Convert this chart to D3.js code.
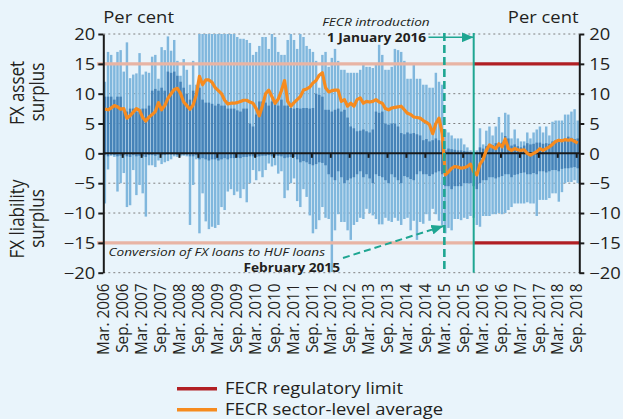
<!DOCTYPE html>
<html><head><meta charset="utf-8">
<script src="https://cdn.jsdelivr.net/npm/d3@7"></script>
<style>
html,body{margin:0;padding:0;background:#e9f4fb;}
svg{display:block;font-family:"Open Sans",sans-serif;}
</style>
</head><body>
<svg id="chart" width="623" height="419"></svg>
<script>
// ---------- DATA ----------
// monthly categories Mar 2006 .. Sep 2018
const categories = d3.timeMonth.range(new Date(2006,2,1), new Date(2018,9,1)).map(d3.timeFormat("%Y-%m"));
const tickLabels = ["Mar. 2006","Sep. 2006","Mar. 2007","Sep. 2007","Mar. 2008","Sep. 2008","Mar. 2009","Sep. 2009",
  "Mar. 2010","Sep. 2010","Mar. 2011","Sep. 2011","Mar. 2012","Sep. 2012","Mar. 2013","Sep. 2013","Mar. 2014","Sep. 2014",
  "Mar. 2015","Sep. 2015","Mar. 2016","Sep. 2016","Mar. 2017","Sep. 2017","Mar. 2018","Sep. 2018"];
const yTicks = [-20,-15,-10,-5,0,5,10,15,20];
const gridValues = [-20,-10,-5,5,10,20];
const regulatoryLimit = 15;

// highest bank value (capped at 20 on the chart)
const maxVals = [12,17,16.5,14.8,17,17.3,13.7,18.6,12.6,13.2,
 13.4,16.8,13.2,13.7,13.5,16.2,16.5,12.5,17.8,17.3,
 19.6,17.2,19.0,15.5,13.0,15.8,14.0,11.5,15.5,11.5,
 20,20,20,20,20,20,20,20,20,20,
 20,20,19.5,19.2,19.2,19.0,18.5,16.5,17.0,18.0,
 19.5,19.5,17.5,20,19.5,17.0,16.5,16.5,19.0,20,
 19.0,17.5,20,19.5,18.0,17.5,17.0,15.5,11.0,16.5,
 17.0,14.5,16.0,17.5,15.5,14.0,14.0,13.5,13.5,13.5,
 13.5,14.0,15.0,14.5,14.5,14.3,15.0,18.2,16.5,14.0,
 14.0,14.5,17.5,17.3,17.0,15.5,12.5,12.5,15.0,12.5,
 12.5,11.5,11.5,11.0,11.0,13.5,12.0,11.5,4.0,3.5,
 3.0,2.5,2.5,2.5,1.5,1.0,0.5,0.3,0.5,4.2,
 1.5,3.8,4.5,3.0,4.5,6.1,3.5,6.8,6.5,2.5,
 4.0,2.5,2.0,2.0,3.5,2.5,3.5,4.0,4.5,3.5,
 4.5,3.0,5.3,5.5,5.5,5.5,6.5,6.5,7.0,7.4,5.5];
// upper quartile
const q3Vals = [9.5,9.5,9.5,9.0,9.5,9.5,7.5,7.0,7.5,7.5,
 7.0,7.0,7.5,7.5,8.0,10.5,10.8,10.5,11.0,10.5,
 13.7,13.5,13.7,13.0,12.0,11.0,10.0,9.0,10.5,10.0,
 11.0,9.0,8.5,8.5,8.3,8.0,8.3,8.0,8.0,7.5,
 7.5,7.5,7.2,7.0,7.5,7.5,5.0,4.5,6.5,8.7,
 8.7,8.5,8.0,8.7,8.5,8.0,9.0,8.0,8.0,7.6,
 7.5,7.6,7.5,7.6,7.6,7.5,7.6,10.0,9.8,9.5,
 7.3,7.3,7.0,7.3,7.5,7.0,7.3,6.0,4.5,4.2,
 3.7,3.8,4.0,3.7,3.5,4.0,7.0,6.8,7.0,5.0,
 4.8,5.0,5.0,4.5,3.4,3.2,3.5,3.3,3.4,3.2,
 3.0,2.2,2.4,2.0,2.2,2.5,2.2,2.0,0.5,0.8,
 0.7,0.6,0.5,0.5,0.4,0.3,0.2,0.2,0.2,1.0,
 0.8,1.2,1.5,1.4,1.7,1.6,1.8,2.9,2.5,1.3,
 1.5,1.2,1.0,1.3,1.7,1.5,1.6,1.8,1.8,1.6,
 1.7,1.6,2.0,2.2,2.4,2.2,2.5,2.8,2.6,2.4,2.5];
// lower quartile
const q1Vals = [-0.3,-0.5,-0.2,-0.3,-0.5,-0.4,-0.3,-0.5,-0.6,-0.3,
 -0.5,-0.4,-0.5,-0.6,-0.3,-0.3,-0.4,-0.2,-0.3,-0.3,
 -0.2,-0.2,-0.2,-0.3,-0.2,-0.2,-0.2,-0.5,-0.5,-0.3,
 -1.0,-0.8,-1.0,-1.2,-1.0,-1.0,-1.2,-1.0,-0.8,-1.0,
 -0.8,-0.8,-0.7,-0.8,-0.6,-0.6,-0.5,-0.5,-0.6,-0.5,
 -0.4,-0.4,-0.3,-0.5,-0.4,-0.4,-0.5,-0.8,-0.7,-0.6,
 -0.6,-1.0,-1.5,-1.3,-1.5,-1.8,-2.0,-1.8,-1.5,-1.6,
 -2.0,-3.5,-4.0,-4.5,-3.0,-4.0,-5.0,-4.5,-4.2,-4.0,
 -3.5,-3.0,-4.0,-3.5,-4.2,-5.0,-3.5,-3.8,-4.0,-4.5,
 -5.0,-3.5,-4.0,-4.5,-5.0,-3.8,-4.0,-4.3,-4.5,-3.5,
 -3.0,-3.5,-3.5,-3.8,-3.5,-3.2,-3.0,-3.5,-5.5,-5.5,
 -6.0,-5.5,-5.5,-5.5,-5.0,-5.0,-5.0,-5.5,-6.0,-5.0,
 -4.5,-4.5,-4.0,-4.0,-4.2,-4.0,-3.8,-3.5,-3.5,-4.0,
 -3.6,-3.5,-3.3,-3.2,-3.5,-3.5,-3.3,-3.5,-3.0,-3.0,
 -3.2,-3.0,-2.8,-2.8,-3.0,-2.6,-2.5,-2.5,-2.4,-2.3,-2.5];
// lowest bank value
const minVals = [-8.4,-2.7,-0.4,-0.6,-6.4,-5.0,-3.3,-9.0,-8.7,-2.8,
 -7.0,-5.3,-6.7,-10.6,-2.0,-2.0,-2.3,-1.2,-1.8,-1.5,
 -1.3,-1.0,-0.5,-0.6,-0.5,-0.4,-0.5,-12.0,-5.3,-1.0,
 -13.4,-6.7,-11.4,-12.7,-12.3,-12.5,-12.0,-9.0,-9.5,-6.4,
 -6.0,-7.0,-6.4,-7.5,-6.0,-8.2,-5.0,-2.8,-4.5,-3.0,
 -4.0,-2.8,-1.7,-2.2,-2.0,-3.4,-3.0,-7.5,-6.2,-5.0,
 -4.2,-8.0,-9.0,-6.0,-7.3,-10.4,-13.4,-12.7,-11.2,-9.0,
 -10.8,-11.0,-19.9,-12.9,-10.2,-11.5,-11.5,-12.9,-14.5,-12.0,
 -11.5,-10.8,-11.0,-9.3,-10.0,-10.4,-11.0,-11.9,-11.9,-10.8,
 -11.3,-11.5,-10.8,-11.3,-12.0,-11.0,-10.8,-12.9,-11.3,-14.5,
 -11.5,-11.8,-10.2,-11.3,-9.3,-10.2,-11.3,-12.0,-13.4,-12.5,
 -12.9,-11.0,-11.0,-11.2,-10.8,-11.0,-10.5,-10.8,-12.0,-12.3,
 -10.5,-10.5,-10.5,-10.2,-10.2,-10.0,-10.2,-10.0,-9.5,-9.0,
 -8.4,-8.4,-8.4,-8.4,-8.2,-8.4,-8.4,-10.5,-7.8,-7.8,
 -7.8,-7.5,-6.7,-6.7,-8.1,-6.5,-5.0,-4.8,-4.8,-4.5,-5.0];
// FECR sector-level average
const avgVals = [7.4,7.3,7.6,8.0,7.8,7.4,7.5,5.9,6.3,6.9,
 7.5,7.2,6.0,5.4,6.1,6.5,7.0,8.5,7.3,8.0,
 9.2,10.0,10.7,10.9,10.0,8.6,8.0,7.4,8.1,9.8,
 12.9,11.5,12.3,12.3,11.9,11.0,10.5,10.0,8.9,8.3,
 8.4,8.4,8.5,8.7,8.9,8.9,8.6,8.4,7.5,6.3,
 8.0,10.0,10.6,9.5,8.4,9.1,10.5,12.2,8.7,7.9,
 8.5,9.0,9.5,10.6,10.8,11.1,11.8,12.2,13.1,13.5,
 11.0,10.3,10.5,10.6,10.6,8.7,9.0,7.9,8.4,7.9,
 9.0,9.3,8.4,8.7,8.6,8.7,9.0,8.6,8.4,7.5,
 7.3,7.6,7.7,7.8,7.9,7.3,6.7,6.5,6.1,6.0,
 5.9,5.5,5.2,4.8,3.3,5.0,5.9,3.3,-3.6,-3.1,
 -2.5,-2.2,-2.3,-2.5,-2.4,-2.2,-1.8,-3.1,-3.6,-1.8,
 -1.0,0.5,1.4,1.1,0.8,1.6,1.1,2.4,0.8,0.5,
 0.8,0.6,0.5,0.6,0.0,-0.3,0.0,0.3,0.8,0.5,
 0.8,1.1,1.5,2.0,2.2,2.1,2.3,2.2,2.3,2.0,1.7];

const conversionMonth = "2015-03";
const introductionMonth = "2015-12";
const legendItems = [{label:"FECR regulatory limit", color:"#b11f24"},{label:"FECR sector-level average", color:"#f68b1f"}];

// ---------- CHART ----------
const C = {bg:"#e9f4fb", light:"#80b7dd", dark:"#4683b8", orange:"#f68b1f", red:"#b11f24", salmon:"#e8b4a4",
  teal:"#1fa692", grid:"#808080", text:"#231f20"};
const S = 1.15; // horizontal text stretch of the original
const svg = d3.select("#chart");
svg.append("rect").attr("width",623).attr("height",419).attr("fill",C.bg);

const x = d3.scaleBand().domain(categories).range([103.3, 579.3]).padding(0);
const y = d3.scaleLinear().domain([-20,20]).range([272.7, 34]);
const bw = x.bandwidth();
const cx = k => x(k) + bw/2;
const clamp = v => Math.max(-20, Math.min(20, v));
const fmt = d => d < 0 ? "\u2212" + Math.abs(d) : String(d);

function htext(g, px, py, s, o={}) {
  return g.append("text")
    .attr("transform", `translate(${px},${py}) scale(${o.sx||S},1)`)
    .attr("text-anchor", o.anchor||"start")
    .attr("dy", o.dy||0)
    .attr("font-size", o.size||16)
    .attr("font-weight", o.weight||"normal")
    .attr("font-style", o.style||"normal")
    .attr("fill", o.fill||C.text)
    .text(s);
}
function vtext(g, px, py, s, o={}) {
  return g.append("text")
    .attr("transform", `translate(${px},${py}) rotate(-90) scale(1,${o.sy||S})`)
    .attr("text-anchor", o.anchor||"middle")
    .attr("dy", o.dy||0)
    .attr("font-size", o.size||16)
    .attr("fill", o.fill||C.text)
    .text(s);
}

// gridlines
svg.append("g").selectAll("line").data(gridValues).join("line")
  .attr("x1",103.3).attr("x2",579.3).attr("y1",d=>y(d)).attr("y2",d=>y(d))
  .attr("stroke",C.grid).attr("stroke-width",1).attr("stroke-dasharray","2,3");

// annotation background box (hides gridline behind the date text)
svg.append("rect").attr("x",325).attr("y",30).attr("width",103).attr("height",9).attr("fill",C.bg);

const rows = categories.map((k,i)=>({k, max:maxVals[i], min:minVals[i], q1:q1Vals[i], q3:q3Vals[i], avg:avgVals[i]}));

// range bars
svg.append("g").selectAll("rect").data(rows).join("rect")
  .attr("x",d=>x(d.k)+0.35).attr("width",bw-0.7)
  .attr("y",d=>y(clamp(d.max))).attr("height",d=>y(clamp(d.min))-y(clamp(d.max)))
  .attr("fill",C.light);
svg.append("g").selectAll("rect").data(rows).join("rect")
  .attr("x",d=>x(d.k)+0.35).attr("width",bw-0.7)
  .attr("y",d=>y(d.q3)).attr("height",d=>y(d.q1)-y(d.q3))
  .attr("fill",C.dark);

// limit lines
const xIntro = cx(introductionMonth);
const xConv = x(conversionMonth) + 0.6;
[regulatoryLimit, -regulatoryLimit].forEach(v=>{
  svg.append("line").attr("x1",97).attr("x2",xIntro).attr("y1",y(v)).attr("y2",y(v))
    .attr("stroke",C.salmon).attr("stroke-width",3.2);
  svg.append("line").attr("x1",xIntro).attr("x2",579.3).attr("y1",y(v)).attr("y2",y(v))
    .attr("stroke",C.red).attr("stroke-width",3.2);
});

// zero axis with ticks
svg.append("line").attr("x1",103.3).attr("x2",579.3).attr("y1",y(0)).attr("y2",y(0))
  .attr("stroke","#1a1a1a").attr("stroke-width",2);
const tickKeys = categories.filter((k,i)=>i%6===0);
svg.append("g").selectAll("line").data(tickKeys.slice(1)).join("line")
  .attr("x1",d=>x(d)+0.5).attr("x2",d=>x(d)+0.5).attr("y1",y(0)).attr("y2",y(0)+4.5)
  .attr("stroke","#1a1a1a").attr("stroke-width",2);

// average line
svg.append("path").datum(rows)
  .attr("d", d3.line().x(d=>cx(d.k)).y(d=>y(d.avg)).curve(d3.curveLinear))
  .attr("fill","none").attr("stroke",C.orange).attr("stroke-width",3.2).attr("stroke-linejoin","round");

// vertical event lines
svg.append("line").attr("x1",xConv).attr("x2",xConv).attr("y1",33).attr("y2",272.7)
  .attr("stroke",C.teal).attr("stroke-width",2.6).attr("stroke-dasharray","8,4");
svg.append("line").attr("x1",xIntro).attr("x2",xIntro).attr("y1",33).attr("y2",272.7)
  .attr("stroke",C.teal).attr("stroke-width",2);

// y axes
function styleAxis(g){
  g.select(".domain").attr("stroke","#1a1a1a").attr("stroke-width",2);
  g.selectAll(".tick line").attr("stroke","#1a1a1a").attr("stroke-width",2);
  g.selectAll(".tick text").each(function(){
    const t = d3.select(this);
    const tx = +t.attr("x");
    t.attr("x",0).attr("transform",`translate(${tx},0) scale(${S},1)`)
     .attr("font-size",16).attr("font-family","Open Sans").attr("fill",C.text).attr("dy","0.36em");
  });
}
svg.append("g").attr("transform","translate(103.3,0)")
  .call(d3.axisLeft(y).tickValues(yTicks).tickFormat(fmt).tickSize(5).tickSizeOuter(0).tickPadding(3))
  .call(styleAxis);
svg.append("g").attr("transform","translate(579.3,0)")
  .call(d3.axisRight(y).tickValues(yTicks).tickFormat(fmt).tickSize(5).tickSizeOuter(0).tickPadding(5))
  .call(styleAxis);

// x labels
const lab = svg.append("g");
tickKeys.forEach((k,i)=>{
  vtext(lab, x(k), 283.5, tickLabels[i], {anchor:"end", size:15.3, dy:"0.36em", sy:1.12});
});

// titles
htext(svg, 103.3, 23, "Per cent", {size:16});
htext(svg, 578.5, 23, "Per cent", {size:16, anchor:"end"});
vtext(svg, 23.5, 93, "FX asset", {size:17, sy:1.2});
vtext(svg, 44, 92, "surplus", {size:17, sy:1.2});
vtext(svg, 23.5, 219, "FX liability", {size:17, sy:1.2});
vtext(svg, 44, 218.5, "surplus", {size:17, sy:1.2});

// annotations
const defs = svg.append("defs");
defs.append("marker").attr("id","ah").attr("viewBox","0 0 12 10").attr("refX",12).attr("refY",5)
  .attr("markerWidth",12).attr("markerHeight",10).attr("markerUnits","userSpaceOnUse").attr("orient","auto")
  .append("path").attr("d","M0,0 L12,5 L0,10 Z").attr("fill",C.teal);
htext(svg, 376, 26, "FECR introduction", {size:11.6, style:"italic", anchor:"middle", sx:1.18});
htext(svg, 376.5, 41.5, "1 January 2016", {size:11.6, weight:"bold", anchor:"middle", sx:1.18});
svg.append("line").attr("x1",428.5).attr("y1",37.3).attr("x2",xIntro).attr("y2",37.3)
  .attr("stroke",C.teal).attr("stroke-width",1.6).attr("marker-end","url(#ah)");
htext(svg, 108.5, 256, "Conversion of FX loans to HUF loans", {size:11.6, style:"italic", sx:1.18});
htext(svg, 340, 271.7, "February 2015", {size:11.6, weight:"bold", anchor:"end", sx:1.18});
svg.append("line").attr("x1",343).attr("y1",258).attr("x2",xConv-1).attr("y2",226)
  .attr("stroke",C.teal).attr("stroke-width",2).attr("stroke-dasharray","7,4").attr("marker-end","url(#ah)");

// legend
const lg = svg.append("g");
legendItems.forEach((d,i)=>{
  const yy = 388.8 + i*21;
  lg.append("line").attr("x1",177).attr("x2",217).attr("y1",yy).attr("y2",yy)
    .attr("stroke",d.color).attr("stroke-width",3.5);
  htext(lg, 225, yy+5.5, d.label, {size:16});
});
</script>
</body></html>
